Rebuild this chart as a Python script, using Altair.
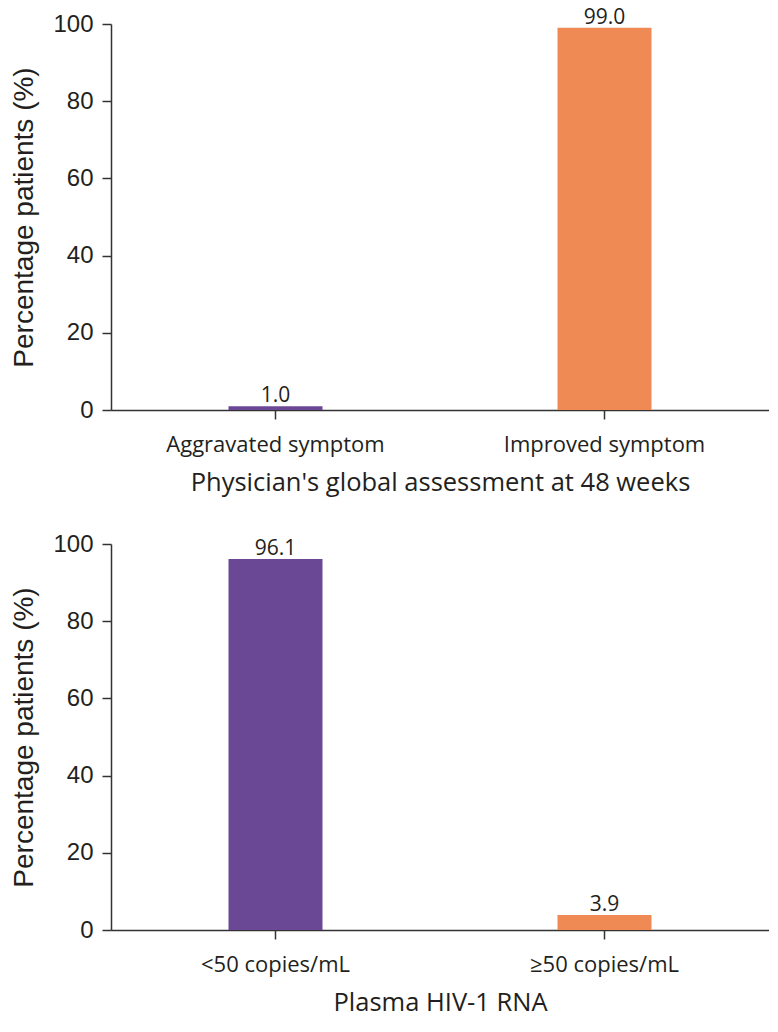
import altair as alt
import pandas as pd

top_categories = ["Aggravated symptom", "Improved symptom"]
top_values = [1.0, 99.0]
top_title = "Physician's global assessment at 48 weeks"

bottom_categories = ["<50 copies/mL", "\u226550 copies/mL"]
bottom_values = [96.1, 3.9]
bottom_title = "Plasma HIV-1 RNA"

bar_colors = ["#6B4896", "#F08A55"]
y_ticks = [0, 20, 40, 60, 80, 100]
y_title = "Percentage patients (%)"

SANS = "Open Sans"
ARIAL = "Liberation Sans"
TXT = "#231F20"


def panel(cats, vals, xtitle):
    df = pd.DataFrame({"cat": cats, "val": vals, "color": bar_colors,
                       "label": [f"{v:.1f}" for v in vals]})
    base = alt.Chart(df).encode(
        x=alt.X("cat:N", sort=cats, title=xtitle,
                scale=alt.Scale(paddingInner=0, paddingOuter=0),
                axis=alt.Axis(labelAngle=0, labelFont=SANS, labelFontSize=22,
                              labelColor=TXT, labelLimit=0, titleFont=SANS,
                              titleFontSize=25.5, titleFontWeight="normal",
                              titleColor=TXT, tickSize=9, tickColor="#333",
                              domainColor="#333", domainWidth=1.5, tickWidth=1.5,
                              labelPadding=15, titlePadding=15)),
        y=alt.Y("val:Q", title=y_title,
                scale=alt.Scale(domain=[0, 100], nice=False),
                axis=alt.Axis(values=y_ticks, grid=False, labelFont=ARIAL,
                              labelFontSize=24, labelColor=TXT, titleFont=ARIAL,
                              titleFontSize=28, titleFontWeight="normal",
                              titleColor=TXT, tickSize=9, tickColor="#333",
                              domainColor="#333", domainWidth=1.5, tickWidth=1.5,
                              labelPadding=9, titlePadding=14)),
    )
    bars = base.mark_bar(size=94).encode(
        color=alt.Color("color:N", scale=None, legend=None))
    text = base.mark_text(baseline="bottom", dy=0, font=SANS, fontSize=21,
                          color=TXT).encode(text="label:N")
    return (bars + text).properties(width=658, height=386)


chart = alt.vconcat(
    panel(top_categories, top_values, top_title),
    panel(bottom_categories, bottom_values, bottom_title),
    spacing=36,
).properties(
    padding={"left": 2, "top": -2, "right": 0, "bottom": 0}
).configure_view(stroke=None)

chart.save("out.html", embed_options={"renderer": "svg", "actions": False})
